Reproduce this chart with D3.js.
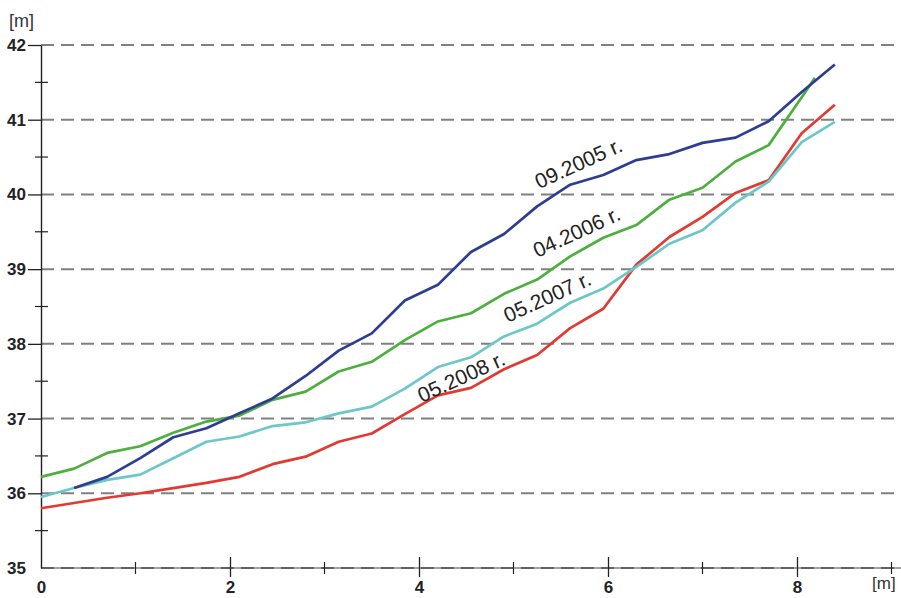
<!DOCTYPE html>
<meta charset="utf-8">
<script src="https://d3js.org/d3.v7.min.js"></script>
<style>
  body { margin: 0; background: #fff; }
  text { font-family: Arial, "Liberation Sans", sans-serif; }
</style>
<div id="chart"></div>
<script>

// distance along the profile [m]
var distance = [0, 0.35, 0.7, 1.05, 1.4, 1.75, 2.1, 2.45, 2.8, 3.15, 3.5, 3.85, 4.2,
                4.55, 4.9, 5.25, 5.6, 5.95, 6.3, 6.65, 7.0, 7.35, 7.7, 8.05, 8.4];
var distance2006 = [0, 0.35, 0.7, 1.05, 1.4, 1.75, 2.1, 2.45, 2.8, 3.15, 3.5, 3.85, 4.2,
                    4.55, 4.9, 5.25, 5.6, 5.95, 6.3, 6.65, 7.0, 7.35, 7.7, 8.05, 8.19];

// elevations [m]
var s2005 = [null, 36.07, 36.22, 36.47, 36.75, 36.87, 37.07, 37.27, 37.57, 37.91, 38.14, 38.58, 38.79,
             39.23, 39.47, 39.84, 40.13, 40.26, 40.46, 40.54, 40.69, 40.76, 40.98, 41.37, 41.74];
var s2006 = [36.22, 36.33, 36.54, 36.63, 36.81, 36.96, 37.04, 37.25, 37.36, 37.63, 37.76, 38.05, 38.30,
             38.41, 38.67, 38.86, 39.17, 39.42, 39.59, 39.93, 40.09, 40.44, 40.66, 41.30, 41.56];
var s2007 = [35.95, 36.07, 36.18, 36.25, 36.47, 36.69, 36.76, 36.90, 36.95, 37.07, 37.16, 37.40, 37.69,
             37.82, 38.10, 38.27, 38.55, 38.74, 39.03, 39.34, 39.52, 39.89, 40.17, 40.70, 40.97];
var s2008 = [35.80, 35.87, 35.94, 36.00, 36.07, 36.14, 36.22, 36.39, 36.49, 36.69, 36.80, 37.06, 37.31,
             37.41, 37.66, 37.85, 38.21, 38.47, 39.06, 39.43, 39.70, 40.02, 40.19, 40.82, 41.20];

var seriesNames = ["09.2005 r.", "04.2006 r.", "05.2007 r.", "05.2008 r."];

var yTicks = [35, 36, 37, 38, 39, 40, 41, 42];
var yMinor = [35.5, 36.5, 37.5, 38.5, 39.5, 40.5, 41.5];
var xTicks = [0, 2, 4, 6, 8];
var xMinor = [1, 3, 5, 7, 9];

var W = 901, H = 598;

var svg = d3.select("#chart").append("svg")
    .attr("width", W)
    .attr("height", H);

var x = d3.scaleLinear().domain([0, 9]).range([41, 891.5]);
var y = d3.scaleLinear().domain([35, 42]).range([568, 45]);

// dashed grid
svg.append("g").selectAll("line")
    .data(yTicks)
    .enter().append("line")
    .attr("x1", x(0))
    .attr("x2", W)
    .attr("y1", function(d) { return y(d); })
    .attr("y2", function(d) { return y(d); })
    .style("stroke", "#808080")
    .style("stroke-width", 2)
    .style("stroke-dasharray", "13,7");

// bottom line (thin solid under the dashes)
svg.append("line")
    .attr("x1", x(0)).attr("x2", W)
    .attr("y1", y(35)).attr("y2", y(35))
    .style("stroke", "#444")
    .style("stroke-width", 1);

// y axis
var yAxis = svg.append("g")
    .attr("transform", "translate(" + x(0) + ",0)")
    .call(d3.axisLeft(y).tickValues(yTicks).tickSize(13).tickSizeOuter(0).tickPadding(2).tickFormat(d3.format("d")));
yAxis.select(".domain").style("stroke", "#222").style("stroke-width", 1.4);
yAxis.selectAll(".tick line").style("stroke", "#222").style("stroke-width", 1.3)
    .style("opacity", function(d) { return d === 35 ? 0 : 1; });
yAxis.selectAll(".tick text")
    .style("font-size", "17px")
    .style("font-weight", "bold")
    .style("fill", "#222");

svg.append("g").selectAll("line")
    .data(yMinor)
    .enter().append("line")
    .attr("x1", x(0) - 6)
    .attr("x2", x(0) + 7)
    .attr("y1", function(d) { return y(d); })
    .attr("y2", function(d) { return y(d); })
    .style("stroke", "#222")
    .style("stroke-width", 1.2);

// x axis
var xAxis = svg.append("g")
    .attr("transform", "translate(0," + y(35) + ")")
    .call(d3.axisBottom(x).tickValues(xTicks).tickSize(10).tickSizeOuter(0).tickFormat(d3.format("d")));
xAxis.select(".domain").remove();
xAxis.selectAll(".tick line")
    .attr("y1", -11).attr("y2", 9)
    .style("stroke", "#222").style("stroke-width", 1.3)
    .style("opacity", function(d) { return d === 0 ? 0 : 1; });
xAxis.selectAll(".tick text")
    .attr("y", 25).attr("dy", 0)
    .style("font-size", "17px")
    .style("font-weight", "bold")
    .style("fill", "#222");

svg.append("g").selectAll("line")
    .data(xMinor)
    .enter().append("line")
    .attr("x1", function(d) { return x(d); })
    .attr("x2", function(d) { return x(d); })
    .attr("y1", y(35) - 6)
    .attr("y2", y(35) + 6)
    .style("stroke", "#222")
    .style("stroke-width", 1.2);

// unit labels
svg.append("text")
    .attr("x", 9).attr("y", 27)
    .style("font-size", "18px")
    .style("fill", "#333")
    .text("[m]");
svg.append("text")
    .attr("x", 872).attr("y", 589)
    .style("font-size", "17px")
    .style("fill", "#333")
    .text("[m]");

// profile lines
var series = [
    {name: seriesNames[3], xs: distance, ys: s2008, color: "#e23a33"},
    {name: seriesNames[2], xs: distance, ys: s2007, color: "#6cc7c9"},
    {name: seriesNames[1], xs: distance2006, ys: s2006, color: "#4caf3e"},
    {name: seriesNames[0], xs: distance, ys: s2005, color: "#2d3e92"}
];

var line = d3.line()
    .defined(function(d) { return d[1] != null; })
    .x(function(d) { return x(d[0]); })
    .y(function(d) { return y(d[1]); });

svg.append("g").selectAll("path")
    .data(series)
    .enter().append("path")
    .attr("d", function(s) { return line(d3.zip(s.xs, s.ys)); })
    .style("fill", "none")
    .style("stroke", function(s) { return s.color; })
    .style("stroke-width", 2.7)
    .style("stroke-linejoin", "round");

// rotated series labels
var labelAt = {
    "09.2005 r.": [5.27, 40.07],
    "04.2006 r.": [5.25, 39.15],
    "05.2007 r.": [4.94, 38.28],
    "05.2008 r.": [4.03, 37.21]
};

svg.append("g").selectAll("text")
    .data(seriesNames)
    .enter().append("text")
    .attr("transform", function(d) {
        return "translate(" + x(labelAt[d][0]) + "," + y(labelAt[d][1]) + ") rotate(-24.5)";
    })
    .style("font-size", "21px")
    .style("fill", "#222")
    .text(function(d) { return d; });

</script>
